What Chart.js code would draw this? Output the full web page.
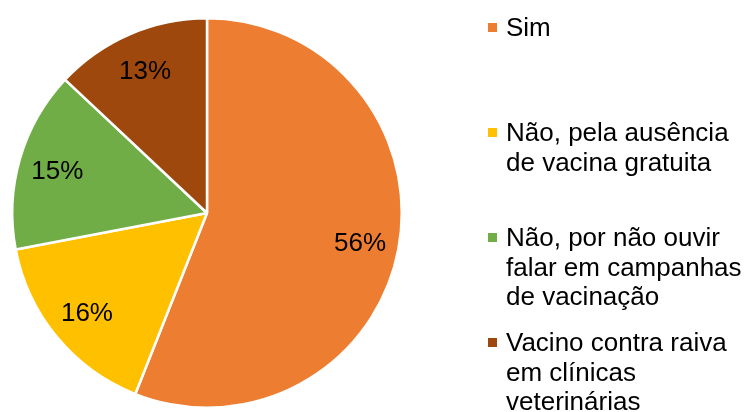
<!DOCTYPE html>
<html>
<head>
<meta charset="utf-8">
<script src="https://cdn.jsdelivr.net/npm/chart.js@4"></script>
<style>
  html, body { margin: 0; padding: 0; background: #fff; }
  #wrap { position: relative; width: 752px; height: 412px; }
  canvas { position: absolute; left: 0; top: 0; }
  #legend {
    position: absolute; left: 488px; top: 13px;
    display: grid; grid-template-rows: repeat(4, 105px);
    font-family: "Liberation Sans", Arial, sans-serif; font-size: 26px;
    line-height: 29.5px; color: #000;
  }
  .item { display: flex; align-items: flex-start; }
  .box { width: 9px; height: 9px; margin-top: 10px; margin-right: 9px; flex: none; }
</style>
</head>
<body>
<div id="wrap">
  <canvas id="c" width="752" height="412"></canvas>
  <div id="legend"></div>
</div>
<script>
// chart data
const labelLines = [
    ['Sim'],
    ['Não, pela ausência', 'de vacina gratuita'],
    ['Não, por não ouvir', 'falar em campanhas', 'de vacinação'],
    ['Vacino contra raiva', 'em clínicas', 'veterinárias']
];
const values = [56, 16, 15, 13];
const colors = ['#ED7D31', '#FFC000', '#70AD47', '#9E480E'];

const pctLabels = {
    id: 'pctLabels',
    afterDatasetsDraw(chart) {
        const ctx = chart.ctx;
        const arcs = chart.getDatasetMeta(0).data;
        ctx.save();
        ctx.font = '26px "Liberation Sans", Arial, sans-serif';
        ctx.fillStyle = '#000';
        ctx.textAlign = 'center';
        ctx.textBaseline = 'middle';
        arcs.forEach((arc, i) => {
            const {x, y, startAngle, endAngle, outerRadius} = arc.getProps(['x', 'y', 'startAngle', 'endAngle', 'outerRadius'], true);
            const mid = (startAngle + endAngle) / 2;
            const r = outerRadius * 0.8;
            ctx.fillText(values[i] + '%', x + Math.cos(mid) * r, y + Math.sin(mid) * r + 2);
        });
        ctx.restore();
    }
};

new Chart(document.getElementById('c'), {
    type: 'pie',
    data: {
        labels: labelLines.map(l => l.join(' ')),
        datasets: [{
            data: values,
            backgroundColor: colors,
            borderColor: '#fff',
            borderWidth: 2.5
        }]
    },
    options: {
        responsive: false,
        animation: false,
        layout: { padding: { left: 11, right: 349, top: 17, bottom: 3 } },
        plugins: {
            legend: { display: false },
            tooltip: { enabled: false }
        }
    },
    plugins: [pctLabels]
});

const legend = document.getElementById('legend');
labelLines.forEach((lines, i) => {
    const item = document.createElement('div');
    item.className = 'item';
    const box = document.createElement('span');
    box.className = 'box';
    box.style.background = colors[i];
    const text = document.createElement('div');
    text.innerHTML = lines.join('<br>');
    item.appendChild(box);
    item.appendChild(text);
    legend.appendChild(item);
});
</script>
</body>
</html>
